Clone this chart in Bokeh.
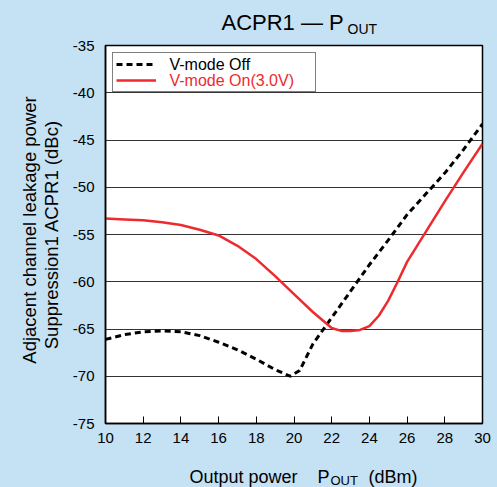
from bokeh.plotting import figure
from bokeh.layouts import column, row
from bokeh.models import Range1d, FixedTicker, Label, Legend, LegendItem
from bokeh.embed import file_html
from bokeh.resources import INLINE
import math

# ---- data ----
pout_off = [10, 11, 12, 13, 14, 15, 16, 17, 18, 19, 19.8, 20.3, 21, 22, 23, 24, 25, 26, 27, 28, 29, 30]
acpr_off = [-66.1, -65.6, -65.3, -65.2, -65.3, -65.7, -66.4, -67.2, -68.2, -69.3, -70.0, -69.4,
            -66.6, -63.8, -61.0, -58.2, -55.6, -52.9, -50.7, -48.5, -46.0, -43.3]

pout_on = [10, 11, 12, 13, 14, 15, 16, 17, 18, 19, 20, 21, 22, 22.5, 23, 23.5, 24, 24.5, 25,
           25.5, 26, 27, 28, 29, 30]
acpr_on = [-53.3, -53.4, -53.5, -53.7, -54.0, -54.5, -55.1, -56.2, -57.6, -59.4, -61.3, -63.2,
           -64.9, -65.2, -65.2, -65.1, -64.7, -63.6, -62.0, -60.0, -57.9, -54.7, -51.5, -48.4, -45.4]

x_ticks = [10, 12, 14, 16, 18, 20, 22, 24, 26, 28, 30]
y_ticks = [-75, -70, -65, -60, -55, -50, -45, -40, -35]

series_names = ["V-mode Off", "V-mode On(3.0V)"]

FONT = "Liberation Sans"
BG = "#C5E1F4"
RED = "#EE2A2E"


def lab(fig, x, y, text, size, color="black", angle=0, align="left"):
    fig.add_layout(Label(x=x, y=y, x_units="screen", y_units="screen", text=text,
                         text_font=FONT, text_font_size=size, text_color=color,
                         text_baseline="alphabetic", text_align=align, angle=angle))


def text_panel(w, h):
    f = figure(width=w, height=h, output_backend="svg", toolbar_location=None,
               x_range=Range1d(0, w), y_range=Range1d(0, h),
               x_axis_location=None, y_axis_location=None, min_border=0,
               frame_align=False)
    f.outline_line_color = None
    f.background_fill_color = BG
    f.border_fill_color = BG
    for g in f.grid:
        g.visible = False
    return f


# ---- main plot ----
p = figure(width=432, height=417, output_backend="svg", toolbar_location=None,
           x_range=Range1d(10, 30), y_range=Range1d(-75, -35), frame_align=False,
           min_border_left=40, min_border_right=15, min_border_top=9, min_border_bottom=30)
p.background_fill_color = "white"
p.border_fill_color = BG
p.outline_line_color = "black"
p.outline_line_width = 1.5

r_off = p.line(pout_off, acpr_off, line_color="black", line_width=3, line_dash="6 4")
r_on = p.line(pout_on, acpr_on, line_color=RED, line_width=2.5)

p.xaxis.ticker = FixedTicker(ticks=x_ticks)
p.yaxis.ticker = FixedTicker(ticks=y_ticks)
p.xaxis.major_label_overrides = {t: str(t) for t in x_ticks}
p.yaxis.major_label_overrides = {t: str(t) for t in y_ticks}
p.xaxis.minor_tick_line_color = None
p.yaxis.minor_tick_line_color = None
p.xaxis.major_tick_in = 7
p.xaxis.major_tick_out = 0
p.xaxis.major_tick_line_color = "black"
p.yaxis.major_tick_in = 0
p.yaxis.major_tick_out = 0
for ax in (p.xaxis, p.yaxis):
    ax.axis_line_color = "black"
    ax.axis_line_width = 1.5
    ax.major_label_text_font = FONT
    ax.major_label_text_font_size = "15px"
    ax.major_label_text_color = "black"
p.xaxis.major_label_standoff = 9
p.yaxis.major_label_standoff = 11

p.xgrid.grid_line_color = None
p.ygrid.grid_line_color = "#333333"
p.ygrid.grid_line_width = 1.2

# legend glyphs + box; label texts as labels so each entry keeps its own colour
leg = Legend(items=[LegendItem(label=" ", renderers=[r_off]),
                    LegendItem(label=" ", renderers=[r_on])],
             location="top_left", margin=7, padding=3, spacing=0,
             glyph_height=16, glyph_width=40, label_height=16, label_width=140,
             label_standoff=16, label_text_font_size="8px",
             border_line_color="black", border_line_width=1,
             background_fill_alpha=0)
p.add_layout(leg)
lab(p, 64, 359.2, series_names[0], "16px")
lab(p, 64, 343.2, series_names[1], "16px", color=RED)

# ---- title band ----
top = text_panel(497, 36)
lab(top, 221, 14.5, "ACPR1 \u2014 P", "22px")
lab(top, 347, 8, "OUT", "14px")

# ---- y-axis title band ----
left = text_panel(65, 417)
lab(left, 28.5, 223.5, "Adjacent channel leakage power", "18.5px", angle=math.pi / 2, align="center")
lab(left, 50.5, 221.5, "Suppression1  ACPR1 (dBc)", "18.5px", angle=math.pi / 2, align="center")

# ---- x-axis title band ----
bottom = text_panel(497, 34)
lab(bottom, 189, 10.6, "Output power", "18px")
lab(bottom, 317, 10.6, "P", "18px")
lab(bottom, 330, 7, "OUT", "13px")
lab(bottom, 368, 10.6, "(dBm)", "18px")

mid = row(left, p, styles={"background-color": BG})
layout = column(top, mid, bottom, styles={"background-color": BG})
open("out.html", "w").write(file_html(layout, INLINE))
